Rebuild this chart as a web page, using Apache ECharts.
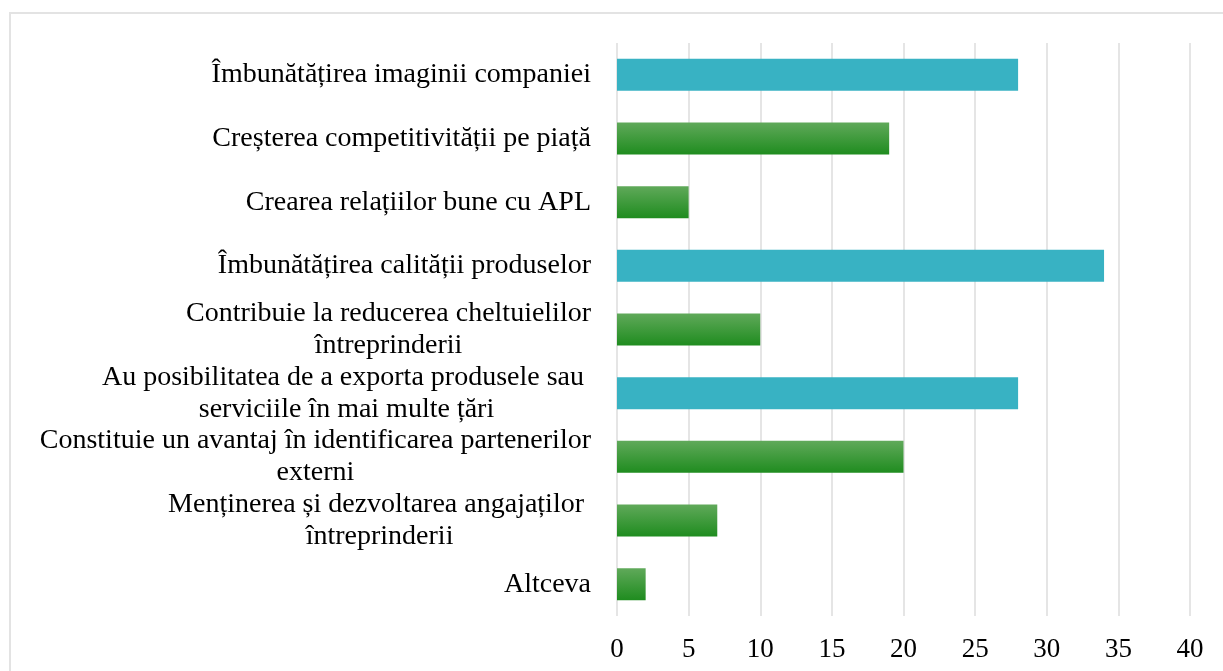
<!DOCTYPE html>
<html>
<head>
<meta charset="utf-8">
<script src="https://cdn.jsdelivr.net/npm/echarts@6/dist/echarts.min.js"></script>
<style>
  html, body { margin: 0; padding: 0; background: #fff; }
  #chart { width: 1223px; height: 671px; }
</style>
</head>
<body>
<div id="chart"></div>
<script>
// categorii (de sus in jos)
const categories = [
  'Îmbunătățirea imaginii companiei',
  'Creșterea competitivității pe piață',
  'Crearea relațiilor bune cu APL',
  'Îmbunătățirea calității produselor',
  'Contribuie la reducerea cheltuielilor\nîntreprinderii',
  'Au posibilitatea de a exporta produsele sau \nserviciile în mai multe țări',
  'Constituie un avantaj în identificarea partenerilor\nexterni',
  'Menținerea și dezvoltarea angajaților \nîntreprinderii',
  'Altceva'
]
const values = [28, 19, 5, 34, 10, 28, 20, 7, 2]
// care bare sunt albastre
const highlighted = [true, false, false, true, false, true, false, false, false]
const xTicks = [0, 5, 10, 15, 20, 25, 30, 35, 40]

const blue = '#38b2c3'
const green = new echarts.graphic.LinearGradient(0, 0, 0, 1, [
  { offset: 0, color: '#60a95a' },
  { offset: 1, color: '#1f8c1f' }
])

const chart = echarts.init(document.getElementById('chart'))

chart.setOption({
  animation: false,
  textStyle: { fontFamily: 'Liberation Serif' },
  graphic: [{
    type: 'rect',
    shape: { x: 10, y: 13, width: 1230, height: 700 },
    style: { fill: 'none', stroke: '#e3e3e3', lineWidth: 2 },
    silent: true
  }],
  grid: { left: 617, right: 33, top: 43, bottom: 55 },
  xAxis: {
    type: 'value',
    min: xTicks[0],
    max: xTicks[xTicks.length - 1],
    interval: 5,
    axisLine: { show: false },
    axisTick: { show: false },
    splitLine: { show: true, lineStyle: { color: '#dcdcdc', width: 1.5 } },
    axisLabel: { color: '#000', fontSize: 27, margin: 20 }
  },
  yAxis: {
    type: 'category',
    inverse: true,
    data: categories,
    axisLine: { show: false },
    axisTick: { show: false },
    axisLabel: {
      margin: 26,
      color: '#000',
      formatter: (v) => v.split('\n').map(l => '{c|' + l + '}').join('\n'),
      rich: {
        c: { align: 'center', fontSize: 28, lineHeight: 32, color: '#000', fontFamily: 'Liberation Serif' }
      }
    }
  },
  series: [{
    type: 'bar',
    barWidth: 32,
    data: values.map((v, i) => ({
      value: v,
      itemStyle: { color: highlighted[i] ? blue : green }
    }))
  }]
})
</script>
</body>
</html>
